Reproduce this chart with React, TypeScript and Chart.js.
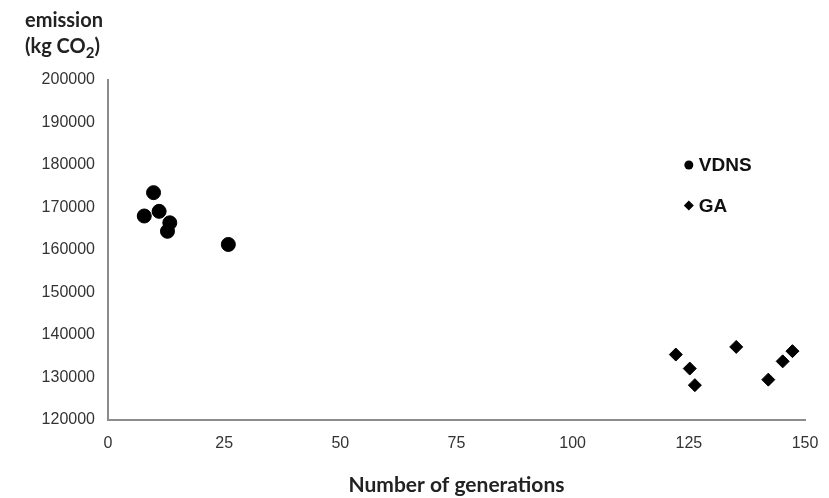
import React, { useEffect, useRef } from 'react';
import { Chart, registerables } from 'chart.js';

Chart.register(...registerables);

const seriesNames = ['VDNS', 'GA'];
const vdnsGenerations = [9.8, 7.8, 11.0, 13.3, 12.8, 25.9];
const vdnsEmission = [173500, 168000, 169100, 166400, 164400, 161300];
const gaGenerations = [122.2, 125.2, 126.3, 135.2, 142.1, 145.2, 147.3];
const gaEmission = [135400, 132100, 128200, 137200, 129500, 133800, 136200];
const xTickValues = [0, 25, 50, 75, 100, 125, 150];
const yTickValues = [120000, 130000, 140000, 150000, 160000, 170000, 180000, 190000, 200000];
const xTitle = 'Number of generations';
const legendAnchorX = 125;
const legendAnchorY = [180000, 170500];

const W = 829;
const H = 498;

const legendPlugin = {
  id: 'customLegend',
  afterDraw(chart: any) {
    const ctx = chart.ctx;
    const xs = chart.scales.x;
    const ys = chart.scales.y;
    ctx.save();
    seriesNames.forEach((name, i) => {
      const px = xs.getPixelForValue(legendAnchorX);
      const py = ys.getPixelForValue(legendAnchorY[i]);
      ctx.fillStyle = '#000';
      ctx.beginPath();
      if (i === 0) {
        ctx.arc(px, py, 4.5, 0, Math.PI * 2);
      } else {
        const r = 5;
        ctx.moveTo(px - r, py);
        ctx.lineTo(px, py - r);
        ctx.lineTo(px + r, py);
        ctx.lineTo(px, py + r);
        ctx.closePath();
      }
      ctx.fill();
      ctx.font = 'bold 19px "Liberation Sans", Arial, sans-serif';
      ctx.textBaseline = 'middle';
      ctx.textAlign = 'left';
      ctx.fillStyle = '#111';
      ctx.fillText(name, px + 10, py + 1);
    });
    ctx.restore();
  },
};

const bgPlugin = {
  id: 'bg',
  beforeDraw(chart: any) {
    const ctx = chart.ctx;
    ctx.save();
    ctx.fillStyle = '#ffffff';
    ctx.fillRect(0, 0, chart.width, chart.height);
    ctx.restore();
  },
};

export default function App() {
  const ref = useRef<HTMLCanvasElement | null>(null);

  useEffect(() => {
    if (!ref.current) return;
    const chart = new Chart(ref.current, {
      type: 'scatter',
      data: {
        datasets: [
          {
            label: seriesNames[0],
            data: vdnsGenerations.map((x, i) => ({ x, y: vdnsEmission[i] })),
            pointStyle: 'circle',
            pointRadius: 7,
            pointBackgroundColor: '#000',
            pointBorderColor: '#000',
            pointBorderWidth: 1,
          },
          {
            label: seriesNames[1],
            data: gaGenerations.map((x, i) => ({ x, y: gaEmission[i] })),
            pointStyle: 'rectRot',
            pointRadius: 6.5,
            pointBackgroundColor: '#000',
            pointBorderColor: '#000',
            pointBorderWidth: 1,
          },
        ],
      },
      options: {
        responsive: false,
        animation: false,
        layout: { padding: { left: 0, top: 80, right: 24, bottom: 0 } },
        plugins: {
          legend: { display: false },
          tooltip: { enabled: false },
        },
        scales: {
          x: {
            type: 'linear',
            min: 0,
            max: 150,
            afterBuildTicks: (scale: any) => {
              scale.ticks = xTickValues.map((v) => ({ value: v }));
            },
            afterFit: (scale: any) => {
              scale.height = 78;
              scale.paddingRight = 0;
              scale.paddingLeft = 0;
            },
            grid: { display: false, drawTicks: false },
            border: { display: true, color: '#8c8c8c', width: 2 },
            ticks: {
              padding: 14,
              color: '#333',
              font: { family: '"Liberation Sans", Arial, sans-serif', size: 16 },
              callback: (v: any) => String(v),
            },
            title: {
              display: true,
              text: xTitle,
              color: '#222',
              font: { family: 'Lato, "Open Sans", sans-serif', size: 21, weight: 'bold' },
              padding: { top: 0, bottom: 0 },
            },
          },
          y: {
            type: 'linear',
            min: 120000,
            max: 200000,
            afterBuildTicks: (scale: any) => {
              scale.ticks = yTickValues.map((v) => ({ value: v }));
            },
            afterFit: (scale: any) => {
              scale.width = 108;
            },
            grid: { display: false, drawTicks: false },
            border: { display: true, color: '#8c8c8c', width: 2 },
            ticks: {
              padding: 13,
              color: '#333',
              font: { family: '"Liberation Sans", Arial, sans-serif', size: 16 },
              callback: (v: any) => String(v),
            },
          },
        },
      },
      plugins: [bgPlugin, legendPlugin],
    });
    return () => chart.destroy();
  }, []);

  return (
    <div style={{ position: 'fixed', left: 0, top: 0, width: W, height: H, background: '#fff' }}>
      <canvas ref={ref} width={W} height={H} style={{ display: 'block', width: W, height: H }} />
      <div
        style={{
          position: 'absolute',
          left: 25,
          top: 6,
          fontFamily: 'Lato, "Open Sans", sans-serif',
          fontWeight: 'bold',
          fontSize: 20,
          lineHeight: '26px',
          color: '#222',
        }}
      >
        <div>emission</div>
        <div>
          (kg CO<sub style={{ fontSize: 15, verticalAlign: -5, lineHeight: 0 }}>2</sub>)
        </div>
      </div>
    </div>
  );
}
